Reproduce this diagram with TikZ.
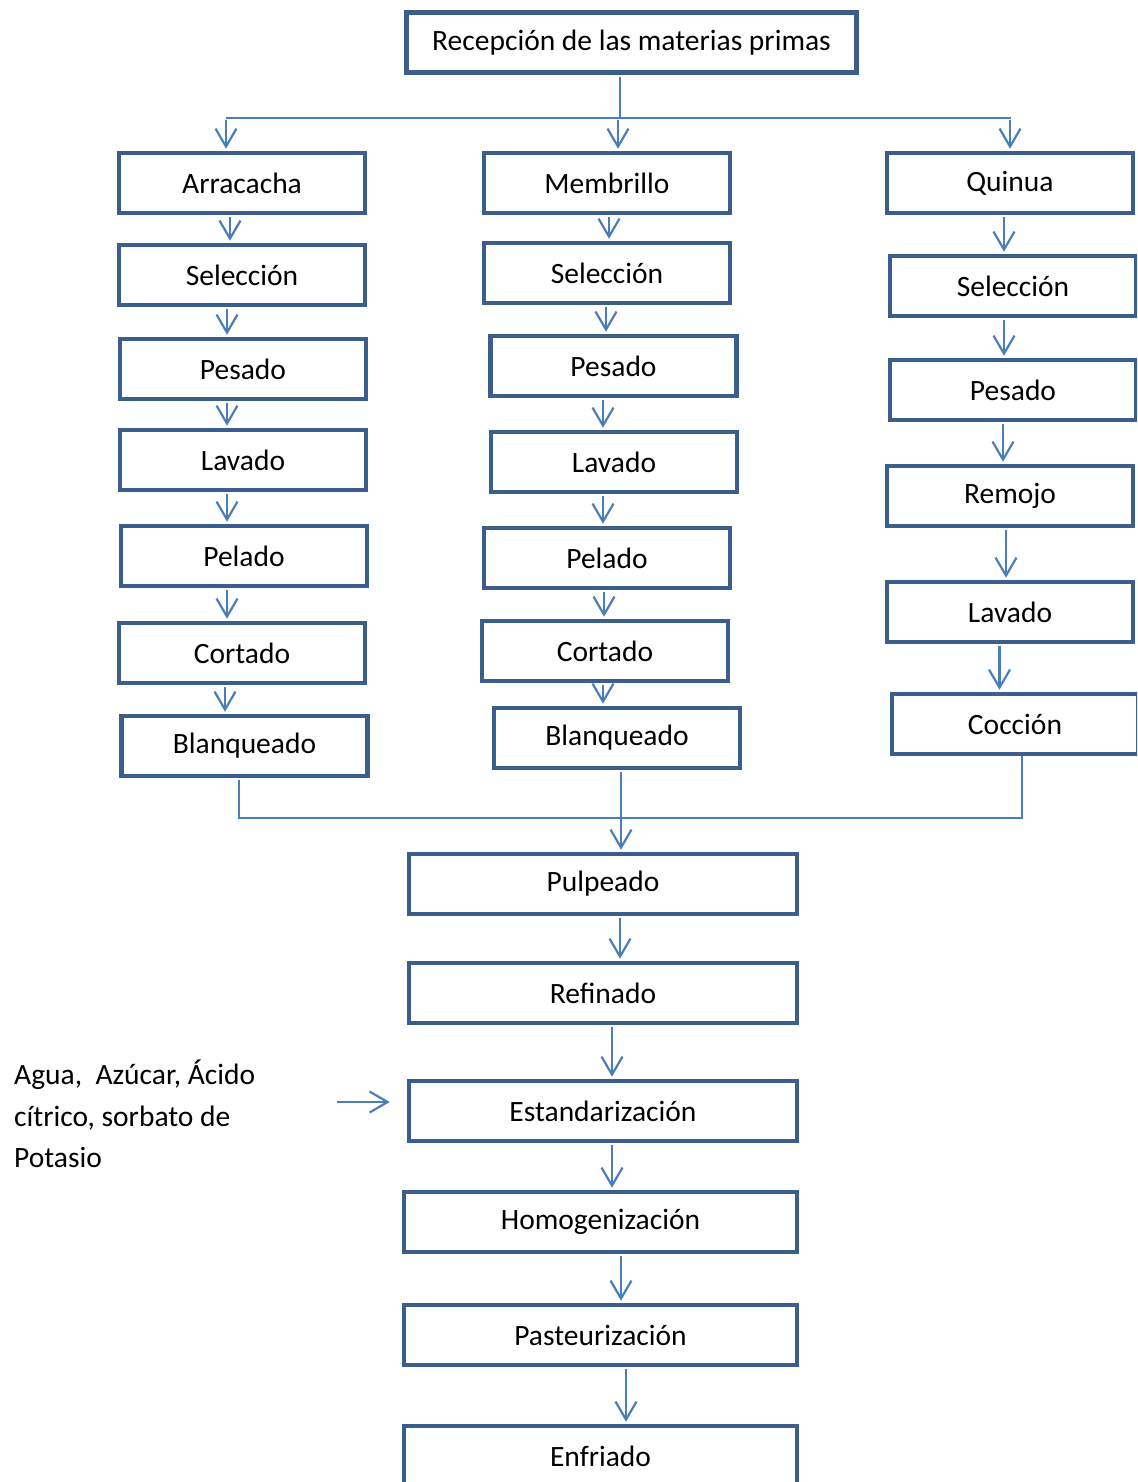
\documentclass[tikz,border=0pt]{standalone}
\usepackage{fontspec}
\setmainfont{Carlito}
\usetikzlibrary{arrows.meta,positioning}
\definecolor{boxblue}{HTML}{3B5E8C}
\definecolor{lineblue}{HTML}{4A7EBB}

\begin{document}
\begin{tikzpicture}[x=1pt,y=-1pt,>={Straight Barb[length=18pt,width=21pt]},
    box/.style={draw=boxblue,line width=4.5pt,minimum width=246pt,minimum height=60pt,
      inner sep=0pt,font=\fontsize{29.5}{35}\selectfont},
    wide/.style={box,minimum width=388pt},
    line/.style={draw=lineblue,line width=2.2pt},
    arr/.style={line,->,shorten >=2pt,shorten <=2pt}]
   \useasboundingbox (0,0) rectangle (1137,1482);
   \clip (0,0) rectangle (1137,1482);

   \node[box,minimum width=450pt] (r_0) at (631.5,42.5) {Recepción de las materias primas};

   % arracacha
   \node[box] (a_1) at (242,183) {Arracacha};
   \node[box] (a_2) at (242,275) {Selección};
   \node[box] (a_3) at (243,369) {Pesado};
   \node[box] (a_4) at (243,460) {Lavado};
   \node[box] (a_5) at (244,556) {Pelado};
   \node[box] (a_6) at (242,653) {Cortado};
   \node[box] (a_7) at (244.5,746) {Blanqueado};

   % membrillo
   \node[box] (m_1) at (607,183) {Membrillo};
   \node[box] (m_2) at (607,273) {Selección};
   \node[box] (m_3) at (613.5,366) {Pesado};
   \node[box] (m_4) at (614,462) {Lavado};
   \node[box] (m_5) at (607,558) {Pelado};
   \node[box] (m_6) at (605,651) {Cortado};
   \node[box] (m_7) at (617,738) {Blanqueado};

   % quinua
   \node[box] (q_1) at (1010,183) {Quinua};
   \node[box] (q_2) at (1013,286) {Selección};
   \node[box] (q_3) at (1013,390) {Pesado};
   \node[box] (q_4) at (1010,496) {Remojo};
   \node[box] (q_5) at (1010,612) {Lavado};
   \node[box] (q_6) at (1015,724) {Cocción};

   % proceso comun
   \node[wide] (p_1) at (603,884) {Pulpeado};
   \node[wide] (p_2) at (603,993) {Refinado};
   \node[wide] (p_3) at (603,1111) {Estandarización};
   \node[wide,minimum width=393pt] (p_4) at (600.5,1222) {Homogenización};
   \node[wide,minimum width=393pt] (p_5) at (600.5,1335) {Pasteurización};
   \node[wide,minimum width=393pt] (p_6) at (600.5,1456) {Enfriado};

   \node[align=left,anchor=north west,inner sep=0pt,font=\fontsize{29.5}{41.5}\selectfont]
      (i_0) at (14,1060) {Agua,\ \ Azúcar, Ácido\\cítrico, sorbato de\\Potasio};
   \coordinate (c_0) at (335,1102);

   % reparto
   \coordinate (j_1) at (620,118);
   \draw[line,shorten <=2pt] ([xshift=-11.5pt]r_0.south) -- (j_1);
   \draw[line] ([xshift=-16pt]a_1.north |- j_1) -- ([xshift=1pt]q_1.north |- j_1);
   \draw[arr] ([xshift=-16pt]a_1.north |- j_1) -- ([xshift=-16pt]a_1.north);
   \draw[arr] ([xshift=11pt]m_1.north |- j_1) -- ([xshift=11pt]m_1.north);
   \draw[arr] (q_1.north |- j_1) -- (q_1.north);

   \draw[arr] ([xshift=-12pt]a_1.south) -- ([xshift=-12pt]a_1.south |- a_2.north);
   \draw[arr] ([xshift=-15pt]a_2.south) -- ([xshift=-15pt]a_2.south |- a_3.north);
   \draw[arr] ([xshift=-16pt]a_3.south) -- ([xshift=-16pt]a_3.south |- a_4.north);
   \draw[arr] ([xshift=-16pt]a_4.south) -- ([xshift=-16pt]a_4.south |- a_5.north);
   \draw[arr] ([xshift=-17pt]a_5.south) -- ([xshift=-17pt]a_5.south |- a_6.north);
   \draw[arr] ([xshift=-17pt]a_6.south) -- ([xshift=-17pt]a_6.south |- a_7.north);

   \draw[arr] ([xshift=2pt]m_1.south) -- ([xshift=2pt]m_1.south |- m_2.north);
   \draw[arr] ([xshift=-1pt]m_2.south) -- ([xshift=-1pt]m_2.south |- m_3.north);
   \draw[arr] ([xshift=-10.5pt]m_3.south) -- ([xshift=-10.5pt]m_3.south |- m_4.north);
   \draw[arr] ([xshift=-11pt]m_4.south) -- ([xshift=-11pt]m_4.south |- m_5.north);
   \draw[arr] ([xshift=-3pt]m_5.south) -- ([xshift=-3pt]m_5.south |- m_6.north);
   \draw[arr] ([xshift=-2pt]m_6.south) -- ([xshift=-2pt]m_6.south |- m_7.north);

   \draw[arr] ([xshift=-6pt]q_1.south) -- ([xshift=-6pt]q_1.south |- q_2.north);
   \draw[arr] ([xshift=-9pt]q_2.south) -- ([xshift=-9pt]q_2.south |- q_3.north);
   \draw[arr] ([xshift=-10pt]q_3.south) -- ([xshift=-10pt]q_3.south |- q_4.north);
   \draw[arr] ([xshift=-4pt]q_4.south) -- ([xshift=-4pt]q_4.south |- q_5.north);
   \draw[arr] ([xshift=-10.5pt]q_5.south) -- ([xshift=-10.5pt]q_5.south |- q_6.north);

   % union
   \coordinate (j_2) at (621,818);
   \draw[line,shorten <=2pt] ([xshift=-5.5pt]a_7.south) -- ([xshift=-5.5pt]a_7.south |- j_2)
      -- ([xshift=7pt]q_6.south |- j_2) -- ([xshift=7pt]q_6.south);
   \draw[line,shorten <=2pt] ([xshift=4pt]m_7.south) -- ([xshift=4pt]m_7.south |- j_2);
   \draw[arr,shorten <=0pt] (j_2) -- (j_2 |- p_1.north);

   \draw[arr] ([xshift=17pt]p_1.south) -- ([xshift=17pt]p_1.south |- p_2.north);
   \draw[arr] ([xshift=9pt]p_2.south) -- ([xshift=9pt]p_2.south |- p_3.north);
   \draw[arr] ([xshift=9pt]p_3.south) -- ([xshift=9pt]p_3.south |- p_4.north);
   \draw[arr] ([xshift=20.5pt]p_4.south) -- ([xshift=20.5pt]p_4.south |- p_5.north);
   \draw[arr] ([xshift=25.5pt]p_5.south) -- ([xshift=25.5pt]p_5.south |- p_6.north);

   \draw[arr,shorten >=17pt] (c_0) -- (c_0 -| p_3.west);
\end{tikzpicture}
\end{document}
